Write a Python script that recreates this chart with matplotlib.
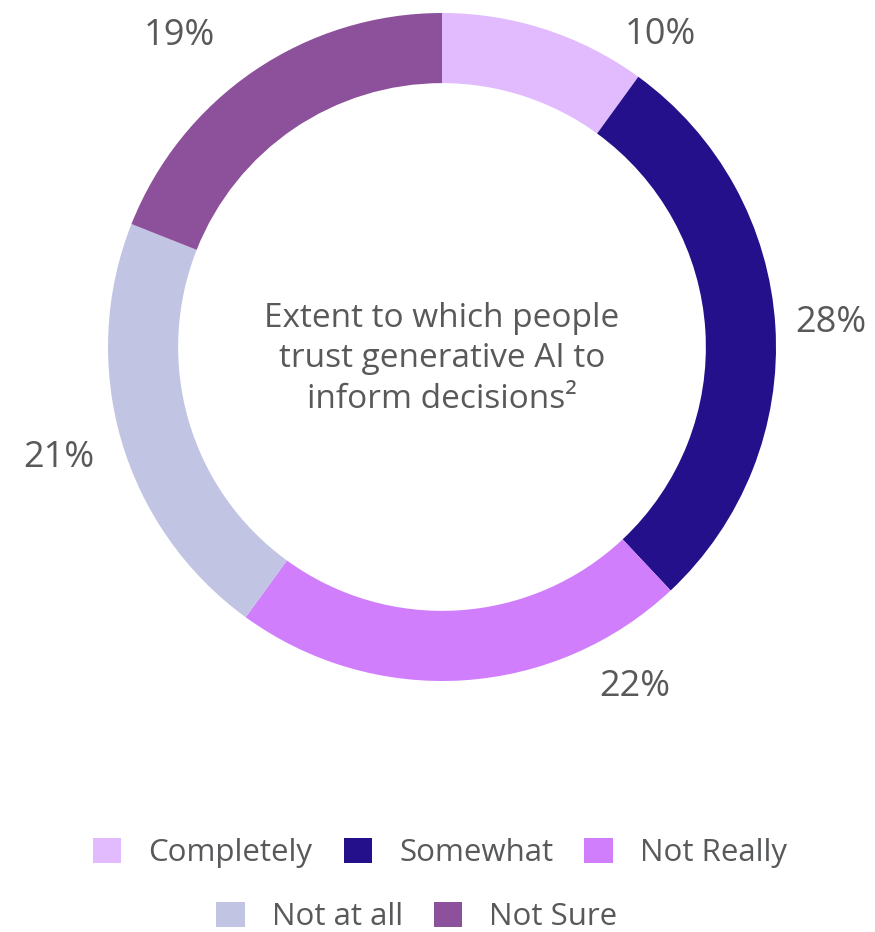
import numpy as np
import matplotlib
matplotlib.use("Agg")
import matplotlib.pyplot as plt
from matplotlib.patches import Patch

# Survey answers, clockwise from 12 o'clock
categories = ["Completely", "Somewhat", "Not Really", "Not at all", "Not Sure"]
shares = [10, 28, 22, 21, 19]
colors = ["#E2BBFE", "#23108A", "#D17EFC", "#C1C5E3", "#8D519B"]
center_title = "Extent to which people\ntrust generative AI to\ninform decisions\u00b2"

text_color = "#58595B"
plt.rcParams["font.family"] = ["Open Sans", "DejaVu Sans"]

fig = plt.figure(figsize=(8.75, 9.32), dpi=100)
# donut occupies a square region in the upper part of the figure
ax = fig.add_axes([108 / 875, (932 - 681) / 932, 668 / 875, 668 / 932])

wedges, _ = ax.pie(
    shares,
    colors=colors,
    startangle=90,
    counterclock=False,
    radius=1.0,
    wedgeprops=dict(width=0.21, linewidth=0),
)
ax.set_xlim(-1, 1)
ax.set_ylim(-1, 1)
ax.set_aspect("equal")
ax.axis("off")

# percentage labels outside the ring, a few nudged sideways to stay clear of the edges
label_nudge = [-17, 0, 26, 0, 6]
label_radius = [1.14, 1.165, 1.17, 1.195, 1.22]
for w, val, nudge, r in zip(wedges, shares, label_nudge, label_radius):
    ang = np.deg2rad((w.theta1 + w.theta2) / 2 + nudge)
    ax.text(r * np.cos(ang), r * np.sin(ang), f"{val}%",
            ha="center", va="center", fontsize=26, color=text_color)

ax.text(0, -0.035, center_title, ha="center", va="center", fontsize=24,
        color=text_color, linespacing=1.3)

handles = [Patch(facecolor=c, edgecolor="none") for c in colors]
legend_kw = dict(frameon=False, fontsize=22.5, handlelength=0.9, handleheight=0.87,
                 handletextpad=0.87, columnspacing=1.0, labelcolor=text_color,
                 borderaxespad=0, borderpad=0)
fig.legend(handles[:3], categories[:3], ncol=3, loc="center",
           bbox_to_anchor=(440 / 875, 1 - 853 / 932), **legend_kw)
fig.legend(handles[3:], categories[3:], ncol=2, loc="center",
           bbox_to_anchor=(417 / 875, 1 - 917 / 932), **legend_kw)

fig.savefig("out.png", dpi=100, facecolor="white")
